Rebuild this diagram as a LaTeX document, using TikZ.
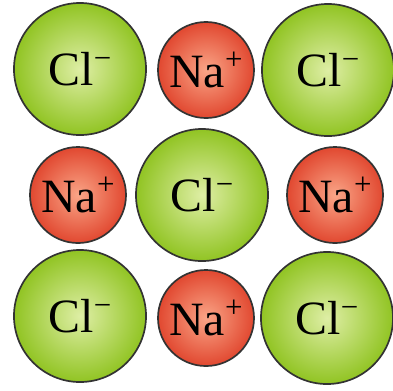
\documentclass[tikz,border=0pt]{standalone}
\usepackage{fontspec}
\setmainfont{Liberation Serif}
\definecolor{clin}{RGB}{222,238,165}
\definecolor{clout}{RGB}{145,196,35}
\definecolor{nain}{RGB}{250,165,135}
\definecolor{naout}{RGB}{225,72,48}
\newcommand{\chg}[1]{\raisebox{0.36em}{\fontsize{22}{22}\selectfont #1}}
\tikzset{
  ion/.style={circle, draw=black!80, line width=1.2pt, shading=radial, inner sep=0pt,
    font=\fontsize{34}{36}\selectfont},
  cl/.style={ion, minimum size=3.3cm, inner color=clin, outer color=clout},
  na/.style={ion, minimum size=2.4cm, inner color=nain, outer color=naout}
}
\begin{document}
\begin{tikzpicture}[x=0.025cm,y=-0.025cm]
\useasboundingbox (0,0) rectangle (393,390);
% top row
\node[cl] (cl1) at (80,69) {Cl\chg{−}};
\node[na] (na1) at (206,70) {Na\chg{+}};
\node[cl] (cl2) at (328,70) {Cl\chg{−}};
% middle row
\node[na] (na2) at (78,195) {Na\chg{+}};
\node[cl] (cl3) at (202,195) {Cl\chg{−}};
\node[na] (na3) at (335,195) {Na\chg{+}};
% bottom row
\node[cl] (cl4) at (80,316) {Cl\chg{−}};
\node[na] (na4) at (206,318) {Na\chg{+}};
\node[cl] (cl5) at (327,318) {Cl\chg{−}};
\end{tikzpicture}
\end{document}
